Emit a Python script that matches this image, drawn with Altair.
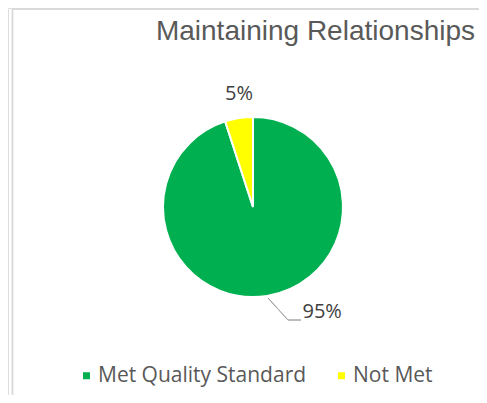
import altair as alt
import pandas as pd

categories = ["Met Quality Standard", "Not Met"]
values = [95, 5]
labels = ["95%", "5%"]
colors = ["#00B050", "#FFFF00"]

df = pd.DataFrame({"category": categories, "value": values, "label": labels, "idx": [0, 1]})

CX, CY, R = 245, 199, 90
theta_scale = alt.Scale(domain=[0, 100], range=[0, 6.283185307])

base = alt.Chart(df).transform_window(
    cum="sum(value)", sort=[alt.SortField("idx")]
).transform_calculate(
    start="datum.cum - datum.value", mid="datum.cum - datum.value/2"
)

pie = base.mark_arc(radius=R, stroke="white", strokeWidth=2).encode(
    theta=alt.Theta("start:Q", scale=theta_scale, stack=None),
    theta2="cum:Q",
    color=alt.Color(
        "category:N",
        scale=alt.Scale(domain=categories, range=colors),
        legend=alt.Legend(
            title=None, orient="none", direction="horizontal",
            legendX=68, legendY=357, symbolType="square", symbolSize=49,
            symbolStrokeWidth=0, labelFont="Open Sans", labelFontSize=21,
            labelColor="#595959", columnPadding=24, labelOffset=1,
            labelLimit=0,
        ),
    ),
    x=alt.value(CX), y=alt.value(CY),
)

lab_small = base.transform_filter("datum.idx == 1").mark_text(
    radius=114, thetaOffset=0.034, font="Open Sans", fontSize=20, color="#404040",
    baseline="middle",
).encode(
    theta=alt.Theta("mid:Q", scale=theta_scale, stack=None),
    text="label:N", x=alt.value(CX), y=alt.value(CY),
)

lab_big = base.transform_filter("datum.idx == 0").mark_text(
    radius=126, thetaOffset=-0.424, font="Open Sans", fontSize=20, color="#404040",
    baseline="middle",
).encode(
    theta=alt.Theta("mid:Q", scale=theta_scale, stack=None),
    text="label:N", x=alt.value(CX), y=alt.value(CY),
)

leader1 = alt.Chart(df).mark_rule(color="#A6A6A6", strokeWidth=1).encode(
    x=alt.value(260), y=alt.value(290), x2=alt.value(280), y2=alt.value(312)
)
leader2 = alt.Chart(df).mark_rule(color="#A6A6A6", strokeWidth=1).encode(
    x=alt.value(280), y=alt.value(312), x2=alt.value(293), y2=alt.value(312)
)

border_top = alt.Chart(df).mark_rule(color="#D9D9D9", strokeWidth=1.5).encode(
    x=alt.value(4.5), x2=alt.value(480), y=alt.value(1), y2=alt.value(1)
)
border_left = alt.Chart(df).mark_rule(color="#D9D9D9", strokeWidth=1.5).encode(
    x=alt.value(4.5), x2=alt.value(4.5), y=alt.value(1), y2=alt.value(400)
)

title = alt.Chart(pd.DataFrame({"t": ["Maintaining Relationships"]})).mark_text(
    font="Liberation Sans", fontSize=28, color="#595959", align="right", baseline="middle"
).encode(text="t:N", x=alt.value(467), y=alt.value(24))

chart = alt.layer(
    border_top, border_left, pie, leader1, leader2, lab_small, lab_big, title
).properties(
    width=471, height=387, padding=0, autosize=alt.AutoSizeParams(type="none")
).configure_view(stroke=None).configure(background="white")

chart.save("out.html", embed_options={"renderer": "svg", "actions": False})
